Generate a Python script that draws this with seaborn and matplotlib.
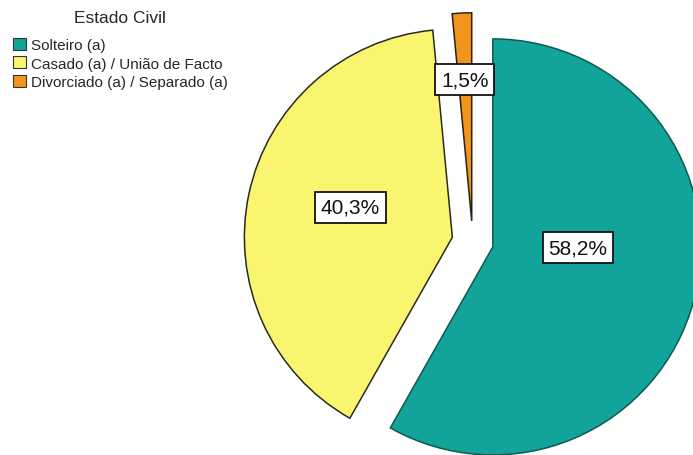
import numpy as np
import matplotlib
matplotlib.use("Agg")
import matplotlib.pyplot as plt
import seaborn as sns

# Marital status distribution
categories = ["Solteiro (a)", "Casado (a) / União de Facto", "Divorciado (a) / Separado (a)"]
percentages = [58.2, 40.3, 1.5]
value_labels = ["58,2%", "40,3%", "1,5%"]
legend_title = "Estado Civil"

colors = ["#12A39B", "#FAF56E", "#F0961E"]
edge_colors = ["#0E5A50", "#2A2A20", "#2A2010"]

sns.set_theme(style="white")
plt.rcParams["font.family"] = ["Liberation Sans", "DejaVu Sans"]

W, H = 693, 456
fig = plt.figure(figsize=(W / 100, H / 100), dpi=100)
ax = fig.add_axes([0, 0, 1, 1])

radius = 208
center = (472.7, H - 242.6)
offset = 0.1 * radius  # every slice pulled out by a tenth of the radius
wedges, _ = ax.pie(
    percentages,
    colors=colors,
    startangle=90,
    counterclock=False,
    explode=[offset] * len(percentages),
    radius=radius,
    center=center,
    wedgeprops=dict(linewidth=1.1),
)
for w, ec in zip(wedges, edge_colors):
    w.set_edgecolor(ec)

# label placement: (angle in degrees, distance as fraction of radius) from wedge apex
label_place = [(-0.5, 0.41), (163.6, 0.51), (92.8, 0.68)]
for w, txt, (ang, frac) in zip(wedges, value_labels, label_place):
    cx, cy = w.center
    a = np.deg2rad(ang)
    ax.text(cx + frac * radius * np.cos(a), cy + frac * radius * np.sin(a), txt,
            ha="center", va="center", fontsize=15, color="#111111",
            bbox=dict(boxstyle="square,pad=0.28", fc="white", ec="#111111", lw=1.3))

ax.set_xlim(0, W)
ax.set_ylim(0, H)
ax.set_aspect("equal")
ax.axis("off")

leg = ax.legend(wedges, categories, title=legend_title, loc="upper left",
                bbox_to_anchor=(10 / W, 1 - 8 / H), bbox_transform=fig.transFigure,
                frameon=False, fontsize=11, title_fontsize=12.5,
                handlelength=0.85, handleheight=0.85, handletextpad=0.3,
                labelspacing=0.28, borderaxespad=0, borderpad=0.2)
for h in leg.legend_handles:
    h.set_edgecolor("#333333")
    h.set_linewidth(0.8)
leg._legend_box.sep = 9

fig.savefig("out.png", dpi=100)
